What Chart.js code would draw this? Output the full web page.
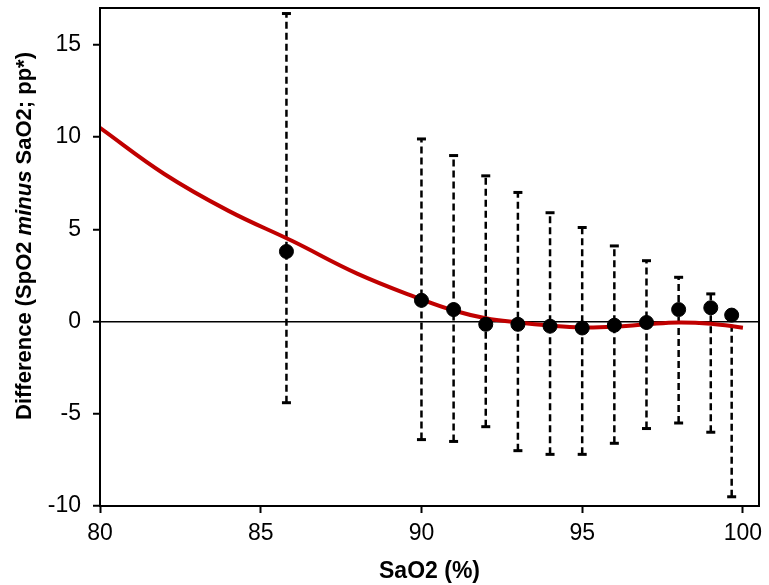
<!DOCTYPE html>
<html>
<head>
<meta charset="utf-8">
<script src="https://cdn.jsdelivr.net/npm/chart.js@4.4.1/dist/chart.umd.min.js"></script>
<style>
  html, body { margin: 0; padding: 0; background: #fff; }
  #wrap { width: 769px; height: 585px; }
</style>
</head>
<body>
<div id="wrap"><canvas id="chart"></canvas></div>
<script>
// measured SaO2 bins: mean difference and limits of agreement
const binX = [85.8, 90, 91, 92, 93, 94, 95, 96, 97, 98, 99, 99.65];
const meanDiff = [3.8, 1.15, 0.65, -0.15, -0.15, -0.25, -0.35, -0.2, -0.05, 0.65, 0.75, 0.35];
const upperLoA = [16.7, 9.9, 9.0, 7.9, 7.0, 5.9, 5.1, 4.1, 3.3, 2.4, 1.5, 0.35];
const lowerLoA = [-4.4, -6.4, -6.5, -5.7, -7.0, -7.2, -7.2, -6.6, -5.8, -5.5, -6.0, -9.5];

// fitted curve
const curveX = [80, 82, 84, 86, 88, 90, 91, 92, 93, 94, 95, 96, 97, 98, 99, 100];
const curveY = [10.5, 8.0, 6.0, 4.35, 2.6, 1.2, 0.6, 0.18, -0.05, -0.22, -0.32, -0.28, -0.15, -0.05, -0.12, -0.33];

const xTicks = [80, 85, 90, 95, 100];
const yTicks = [-10, -5, 0, 5, 10, 15];

const FONT = "'Liberation Sans', Arial, sans-serif";

// error bars as one broken line: lower, upper, gap
const barData = [];
binX.forEach((x, i) => {
    barData.push({ x: x, y: lowerLoA[i] });
    barData.push({ x: x, y: upperLoA[i] });
    barData.push({ x: x, y: null });
});

const framePlugin = {
    id: 'frame',
    afterDatasetsDraw(chart) {
        const { ctx, chartArea: a } = chart;
        ctx.save();
        ctx.strokeStyle = '#000';
        ctx.lineWidth = 2;
        ctx.strokeRect(a.left, a.top, a.right - a.left, a.bottom - a.top);
        ctx.restore();
    },
    afterDraw(chart) {
        // y title with italic "minus"
        const { ctx } = chart;
        const parts = [
            ['bold 22px ' + FONT, 'Difference (SpO2 '],
            ['italic bold 22px ' + FONT, 'minus'],
            ['bold 22px ' + FONT, ' SaO2; pp*)']
        ];
        ctx.save();
        let total = 0;
        parts.forEach(p => { ctx.font = p[0]; total += ctx.measureText(p[1]).width; });
        ctx.translate(25, 236);
        ctx.rotate(-Math.PI / 2);
        ctx.fillStyle = '#000';
        ctx.textBaseline = 'middle';
        let x = -total / 2;
        parts.forEach(p => {
            ctx.font = p[0];
            ctx.fillText(p[1], x, 0);
            x += ctx.measureText(p[1]).width;
        });
        ctx.restore();
    }
};

new Chart(document.getElementById('chart'), {
    type: 'line',
    data: {
        datasets: [
            {
                type: 'scatter',
                data: binX.map((x, i) => ({ x: x, y: meanDiff[i] })),
                backgroundColor: '#000',
                borderColor: '#000',
                pointRadius: 7,
                order: 0
            },
            {
                data: curveX.map((x, i) => ({ x: x, y: curveY[i] })),
                borderColor: '#C00000',
                borderWidth: 4,
                pointRadius: 0,
                tension: 0.4,
                order: 1
            },
            {
                data: barData,
                borderColor: '#000',
                borderWidth: 2.5,
                borderDash: [7, 4],
                spanGaps: false,
                pointStyle: 'line',
                pointRadius: 4.5,
                pointBorderWidth: 3,
                pointBorderColor: '#000',
                order: 2
            }
        ]
    },
    options: {
        responsive: true,
        maintainAspectRatio: false,
        animation: false,
        layout: { padding: { top: 8, right: 10, left: 0, bottom: 0 } },
        plugins: { legend: { display: false }, tooltip: { enabled: false } },
        scales: {
            x: {
                type: 'linear',
                min: 80,
                max: 100.5,
                afterBuildTicks: s => { s.ticks = xTicks.map(v => ({ value: v })); },
                afterFit: s => { s.height = 79; s.paddingLeft = 0; s.paddingRight = 0; },
                border: { display: false },
                grid: { drawOnChartArea: false, drawTicks: true, tickLength: 7, tickColor: '#000', tickWidth: 2 },
                ticks: { color: '#000', font: { family: FONT, size: 23 }, padding: 7, maxRotation: 0 },
                title: {
                    display: true,
                    text: 'SaO2 (%)',
                    color: '#000',
                    font: { family: FONT, size: 23, weight: 'bold' },
                    padding: { top: 0, bottom: 0 }
                }
            },
            y: {
                min: -10,
                max: 17,
                afterBuildTicks: s => { s.ticks = yTicks.map(v => ({ value: v })); },
                afterFit: s => { s.width = 100; s.paddingTop = 0; s.paddingBottom = 0; },
                border: { display: false },
                grid: {
                    drawOnChartArea: true,
                    color: c => (c.tick && c.tick.value === 0) ? '#000' : 'rgba(0,0,0,0)',
                    lineWidth: 1.5,
                    tickLength: 7,
                    tickColor: '#000',
                    tickWidth: 2
                },
                ticks: { color: '#000', font: { family: FONT, size: 23 }, padding: 12 }
            }
        }
    },
    plugins: [framePlugin]
});
</script>
</body>
</html>
